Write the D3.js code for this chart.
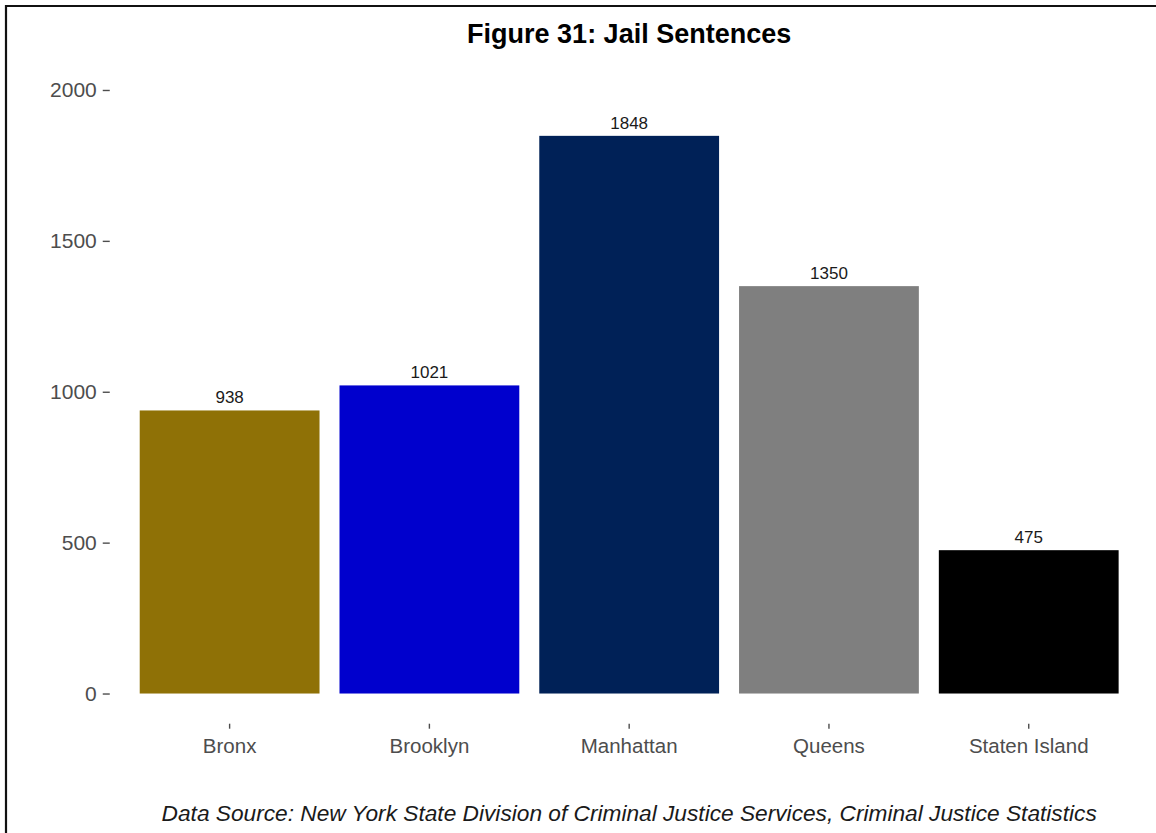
<!DOCTYPE html>
<html>
<head>
<meta charset="utf-8">
<script src="https://cdn.jsdelivr.net/npm/d3@7"></script>
<style>
  html, body { margin: 0; padding: 0; background: #fff; }
  svg { display: block; }
</style>
</head>
<body>
<svg id="chart" width="1156" height="833"></svg>
<script>
const categories = ["Bronx", "Brooklyn", "Manhattan", "Queens", "Staten Island"];
const values = [938, 1021, 1848, 1350, 475];
const barColors = ["#8f7106", "#0000cd", "#002157", "#7f7f7f", "#000000"];
const yTicks = [0, 500, 1000, 1500, 2000];
const yLimits = [0, 2000];
const titleText = "Figure 31: Jail Sentences";
const captionText = "Data Source: New York State Division of Criminal Justice Services, Criminal Justice Statistics";

const W = 1156, H = 833;
const panel = { left: 109.75, right: 1148.6, top: 59.8, bottom: 723.7 };
const FONT = "'Liberation Sans', Arial, Helvetica, sans-serif";

const svg = d3.select("#chart");
svg.append("rect").attr("width", W).attr("height", H).attr("fill", "#fff");

// expand y limits by 5% on each side (ggplot default)
const span = yLimits[1] - yLimits[0];
const y = d3.scaleLinear()
  .domain([yLimits[0] - 0.05 * span, yLimits[1] + 0.05 * span])
  .range([panel.bottom, panel.top]);

const x = d3.scaleBand()
  .domain(categories)
  .range([panel.left, panel.right])
  .paddingInner(0.1)
  .paddingOuter(0.15);

// bars
svg.append("g").selectAll("rect")
  .data(categories)
  .join("rect")
  .attr("x", d => x(d))
  .attr("width", x.bandwidth())
  .attr("y", (d, i) => y(values[i]))
  .attr("height", (d, i) => y(0) - y(values[i]))
  .attr("fill", (d, i) => barColors[i]);

// value labels
svg.append("g").selectAll("text")
  .data(categories)
  .join("text")
  .attr("x", d => x(d) + x.bandwidth() / 2)
  .attr("y", (d, i) => y(values[i]) - 7)
  .attr("text-anchor", "middle")
  .attr("font-family", FONT)
  .attr("font-size", 17)
  .attr("fill", "#1a1a1a")
  .text((d, i) => values[i]);

// y axis
const yAxis = svg.append("g")
  .attr("transform", `translate(${panel.left},0)`)
  .call(d3.axisLeft(y).tickValues(yTicks).tickSize(7).tickPadding(6).tickFormat(d3.format("d")));
yAxis.select(".domain").remove();
yAxis.selectAll(".tick line").attr("stroke", "#4d4d4d").attr("stroke-width", 1.4);
yAxis.selectAll(".tick text")
  .attr("font-family", FONT)
  .attr("font-size", 21)
  .attr("fill", "#4d4d4d");

// x axis
const xAxis = svg.append("g")
  .attr("transform", `translate(0,${panel.bottom})`)
  .call(d3.axisBottom(x).tickSize(5).tickPadding(8));
xAxis.select(".domain").remove();
xAxis.selectAll(".tick line").attr("stroke", "#4d4d4d").attr("stroke-width", 1.4);
xAxis.selectAll(".tick text")
  .attr("font-family", FONT)
  .attr("font-size", 20.5)
  .attr("fill", "#4d4d4d")
  .attr("dy", null)
  .attr("y", 29.8);

// title
const cx = (panel.left + panel.right) / 2;
svg.append("text")
  .attr("x", cx)
  .attr("y", 43.3)
  .attr("text-anchor", "middle")
  .attr("font-family", FONT)
  .attr("font-weight", "bold")
  .attr("font-size", 27)
  .attr("fill", "#000")
  .text(titleText);

// caption
svg.append("text")
  .attr("x", cx)
  .attr("y", 821)
  .attr("text-anchor", "middle")
  .attr("font-family", FONT)
  .attr("font-style", "italic")
  .attr("font-size", 22.7)
  .attr("fill", "#1a1a1a")
  .text(captionText);

// frame (top and left edges of the screenshot border)
svg.append("line").attr("x1", 5).attr("x2", W).attr("y1", 6).attr("y2", 6)
  .attr("stroke", "#111").attr("stroke-width", 2.2);
svg.append("line").attr("x1", 6).attr("x2", 6).attr("y1", 5).attr("y2", H)
  .attr("stroke", "#111").attr("stroke-width", 2.2);
</script>
</body>
</html>
